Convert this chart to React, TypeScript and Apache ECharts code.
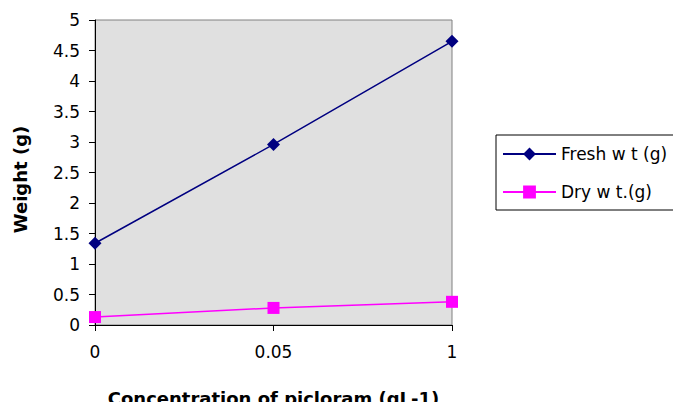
import React, { useEffect, useRef } from "react";
import * as echarts from "echarts";

const categories = ["0", "0.05", "1"];
const freshWt = [1.34, 2.96, 4.65];
const dryWt = [0.13, 0.28, 0.38];
const yMin = 0;
const yMax = 5;
const yInterval = 0.5;

const FONT = "'DejaVu Sans', sans-serif";

export default function App() {
  const ref = useRef<HTMLDivElement>(null);
  useEffect(() => {
    const chart = echarts.init(ref.current!, null, { renderer: "svg" });
    chart.setOption({
      animation: false,
      textStyle: { fontFamily: FONT },
      grid: {
        left: 95,
        top: 20,
        right: 229,
        bottom: 85,
        outerBoundsMode: "none",
        show: true,
        backgroundColor: "#e0e0e0",
        borderColor: "#808080",
        borderWidth: 1,
      },
      legend: {
        orient: "vertical",
        left: 496,
        top: 135,
        padding: [9, 12, 8, 6],
        itemWidth: 53,
        itemHeight: 16,
        itemGap: 18,
        borderColor: "#000",
        borderWidth: 1,
        backgroundColor: "#fff",
        textStyle: { fontFamily: FONT, fontSize: 17, color: "#000", lineHeight: 20 },
        data: ["Fresh w t (g)", "Dry w t.(g)"],
      },
      xAxis: {
        type: "category",
        data: categories,
        boundaryGap: false,
        name: "Concentration of picloram (gL-1)",
        nameLocation: "middle",
        nameGap: 64,
        nameTextStyle: { fontFamily: FONT, fontSize: 18, fontWeight: "bold", color: "#000" },
        axisLine: { lineStyle: { color: "#000", width: 1 } },
        axisTick: { show: true, length: 6, lineStyle: { color: "#000" }, alignWithLabel: true },
        axisLabel: { fontFamily: FONT, fontSize: 17, color: "#000", margin: 18 },
        splitLine: { show: false },
      },
      yAxis: {
        type: "value",
        min: yMin,
        max: yMax,
        interval: yInterval,
        name: "Weight (g)",
        nameLocation: "middle",
        nameGap: 66,
        nameTextStyle: { fontFamily: FONT, fontSize: 18, fontWeight: "bold", color: "#000", padding: [0, 14, 0, 0] },
        axisLine: { show: true, lineStyle: { color: "#000", width: 1 } },
        axisTick: { show: true, length: 6, lineStyle: { color: "#000" } },
        axisLabel: { fontFamily: FONT, fontSize: 17, color: "#000", margin: 15 },
        splitLine: { show: false },
      },
      series: [
        {
          name: "Fresh w t (g)",
          type: "line",
          data: freshWt,
          symbol: "diamond",
          symbolSize: 13,
          itemStyle: { color: "#000080" },
          lineStyle: { color: "#000080", width: 1.5 },
        },
        {
          name: "Dry w t.(g)",
          type: "line",
          data: dryWt,
          symbol: "rect",
          symbolSize: 12,
          itemStyle: { color: "#ff00ff" },
          lineStyle: { color: "#ff00ff", width: 1.5 },
        },
      ],
    });
    return () => chart.dispose();
  }, []);
  return <div ref={ref} style={{ width: 681, height: 410, margin: -8 }} />;
}
